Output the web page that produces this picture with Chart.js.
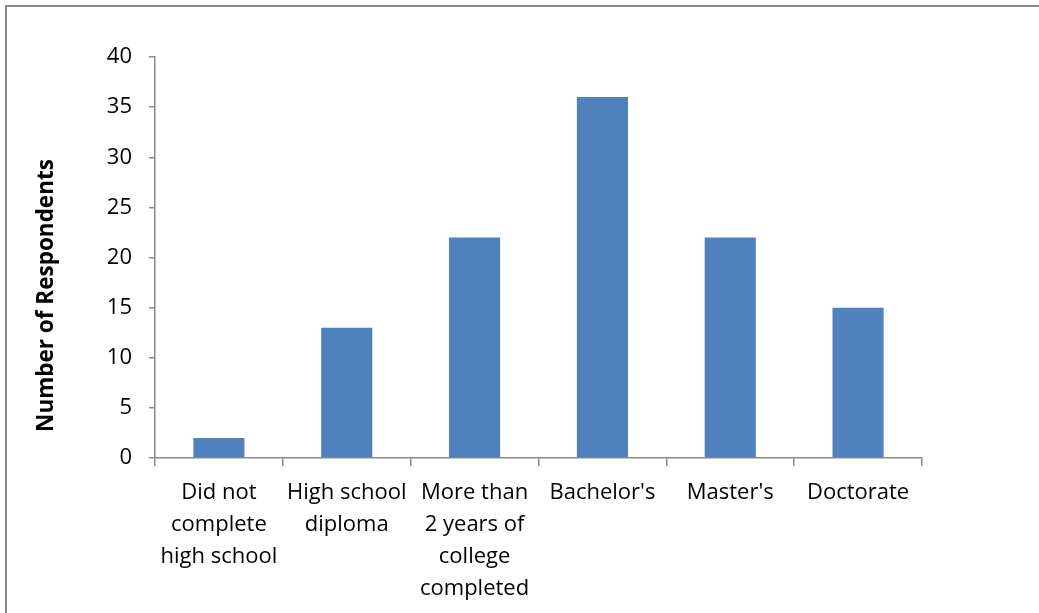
<!DOCTYPE html>
<html>
<head>
<meta charset="utf-8">
<script src="https://cdn.jsdelivr.net/npm/chart.js@4/dist/chart.umd.min.js"></script>
<style>
    html, body { margin: 0; padding: 0; background: #fff; overflow: hidden; }
    .wrap { position: relative; width: 1039px; height: 613px; }
    .frame {
        position: absolute; left: 5px; top: 5px; width: 1100px; height: 700px;
        border-left: 2px solid #8a8a8a; border-top: 2px solid #8a8a8a;
        pointer-events: none;
    }
    canvas { position: absolute; left: 0; top: 0; }
</style>
</head>
<body>
<div class="wrap">
    <canvas id="eduChart" width="1039" height="613"></canvas>
    <div class="frame"></div>
</div>
<script>
// tahsil darajasi bo'yicha respondentlar soni
const categories = [
    ['Did not', 'complete', 'high school'],
    ['High school', 'diploma'],
    ['More than', '2 years of', 'college', 'completed'],
    ["Bachelor's"],
    ["Master's"],
    ['Doctorate'],
];
const respondents = [2, 13, 22, 36, 22, 15];
const yTicks = [0, 5, 10, 15, 20, 25, 30, 35, 40];
const yTitle = 'Number of Respondents';

const FONT = '"Open Sans", "Liberation Sans", sans-serif';
const AXIS = '#8a8a8a';

// y o'qi sarlavhasi — chart maydonining o'rtasidan biroz pastroqda
const yTitlePlugin = {
    id: 'yTitle',
    afterDraw(chart) {
        const ctx = chart.ctx;
        const area = chart.chartArea;
        ctx.save();
        ctx.translate(47, (area.top + area.bottom) / 2 + 38);
        ctx.rotate(-Math.PI / 2);
        ctx.fillStyle = '#000';
        ctx.font = 'bold 22.5px ' + FONT;
        ctx.textAlign = 'center';
        ctx.textBaseline = 'middle';
        ctx.fillText(yTitle, 0, 0);
        ctx.restore();
    },
};

new Chart(document.getElementById('eduChart').getContext('2d'), {
    type: 'bar',
    data: {
        labels: categories,
        datasets: [{
            label: yTitle,
            data: respondents,
            backgroundColor: '#4f81bd',
            borderWidth: 0,
            barPercentage: 0.4,
            categoryPercentage: 1,
        }],
    },
    options: {
        responsive: false,
        devicePixelRatio: 1,
        animation: false,
        layout: { padding: { left: 0, top: 57, right: 117, bottom: 0 } },
        plugins: {
            legend: { display: false },
            tooltip: { enabled: false },
        },
        scales: {
            x: {
                afterFit: s => { s.height = 155; },
                border: { display: true, color: AXIS, width: 1.5 },
                grid: { display: true, drawOnChartArea: false, drawTicks: true, tickLength: 8, color: AXIS, lineWidth: 1.5, offset: true },
                ticks: {
                    color: '#000',
                    font: { family: FONT, size: 22, lineHeight: '32px' },
                    padding: 11,
                    maxRotation: 0,
                    autoSkip: false,
                },
            },
            y: {
                min: 0,
                max: 40,
                afterFit: s => { s.width = 155; },
                afterBuildTicks: s => { s.ticks = yTicks.map(v => ({ value: v })); },
                border: { display: true, color: AXIS, width: 1.5 },
                grid: { display: true, drawOnChartArea: false, drawTicks: true, tickLength: 6, color: AXIS, lineWidth: 1.5 },
                ticks: {
                    color: '#000',
                    font: { family: FONT, size: 22 },
                    padding: 17,
                },
            },
        },
    },
    plugins: [yTitlePlugin],
});
</script>
</body>
</html>
